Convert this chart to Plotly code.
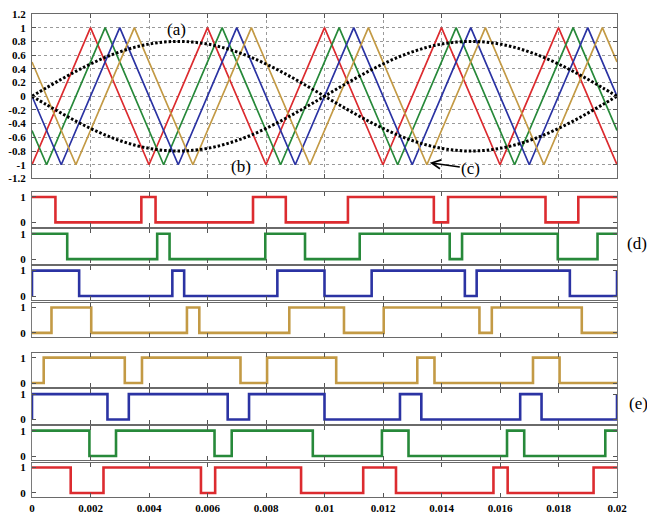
import plotly.graph_objects as go

# ---------------- data ----------------
# triangular carriers: vertex times (s) and values
red_t = [0, 0.002, 0.004, 0.006, 0.008, 0.010, 0.012, 0.014, 0.016, 0.018, 0.020]
red_v = [-1, 1, -1, 1, -1, 1, -1, 1, -1, 1, -1]
green_t = [0, 0.0005, 0.0025, 0.0045, 0.0065, 0.0085, 0.0105, 0.0125, 0.0145, 0.0165, 0.0185, 0.020]
green_v = [-0.5, -1, 1, -1, 1, -1, 1, -1, 1, -1, 1, -0.5]
blue_t = [0, 0.001, 0.003, 0.005, 0.007, 0.009, 0.011, 0.013, 0.015, 0.017, 0.019, 0.020]
blue_v = [0, -1, 1, -1, 1, -1, 1, -1, 1, -1, 1, 0]
gold_t = [0, 0.0015, 0.0035, 0.0055, 0.0075, 0.0095, 0.0115, 0.0135, 0.0155, 0.0175, 0.0195, 0.020]
gold_v = [0.5, -1, 1, -1, 1, -1, 1, -1, 1, -1, 1, 0.5]

# sinusoidal references (read every 0.5 ms)
ref_t = [0.0000, 0.0005, 0.0010, 0.0015, 0.0020, 0.0025, 0.0030, 0.0035, 0.0040, 0.0045,
         0.0050, 0.0055, 0.0060, 0.0065, 0.0070, 0.0075, 0.0080, 0.0085, 0.0090, 0.0095,
         0.0100, 0.0105, 0.0110, 0.0115, 0.0120, 0.0125, 0.0130, 0.0135, 0.0140, 0.0145,
         0.0150, 0.0155, 0.0160, 0.0165, 0.0170, 0.0175, 0.0180, 0.0185, 0.0190, 0.0195, 0.0200]
ref_a = [0.0, 0.125, 0.247, 0.363, 0.470, 0.566, 0.647, 0.713, 0.761, 0.790,
         0.800, 0.790, 0.761, 0.713, 0.647, 0.566, 0.470, 0.363, 0.247, 0.125,
         0.0, -0.125, -0.247, -0.363, -0.470, -0.566, -0.647, -0.713, -0.761, -0.790,
         -0.800, -0.790, -0.761, -0.713, -0.647, -0.566, -0.470, -0.363, -0.247, -0.125, 0.0]
ref_b = [0.0, -0.125, -0.247, -0.363, -0.470, -0.566, -0.647, -0.713, -0.761, -0.790,
         -0.800, -0.790, -0.761, -0.713, -0.647, -0.566, -0.470, -0.363, -0.247, -0.125,
         0.0, 0.125, 0.247, 0.363, 0.470, 0.566, 0.647, 0.713, 0.761, 0.790,
         0.800, 0.790, 0.761, 0.713, 0.647, 0.566, 0.470, 0.363, 0.247, 0.125, 0.0]

# gate pulses (d): initial state and switching instants (s)
d_red_init = 1
d_red_sw = [0.000801, 0.003738, 0.004224, 0.007556, 0.008677, 0.010801, 0.013738, 0.014224, 0.017556, 0.018677]
d_green_init = 1
d_green_sw = [0.001204, 0.004280, 0.004703, 0.007975, 0.009334, 0.011204, 0.014280, 0.014703, 0.017975, 0.019334]
d_blue_init = 0
d_blue_sw = [0.0, 0.001612, 0.004798, 0.005202, 0.008388, 0.010000, 0.011612, 0.014798, 0.015202, 0.018388, 0.020]
d_gold_init = 0
d_gold_sw = [0.000666, 0.002025, 0.005297, 0.005720, 0.008796, 0.010666, 0.012025, 0.015297, 0.015720, 0.018796]

# gate pulses (e)
e_gold_init = 0
e_gold_sw = [0.000400, 0.003172, 0.003760, 0.007128, 0.008037, 0.010400, 0.013172, 0.013760, 0.017128, 0.018037]
e_blue_init = 0
e_blue_sw = [0.0, 0.002580, 0.003310, 0.006690, 0.007420, 0.010000, 0.012580, 0.013310, 0.016690, 0.017420, 0.020]
e_green_init = 1
e_green_sw = [0.001963, 0.002872, 0.006240, 0.006828, 0.009600, 0.011963, 0.012872, 0.016240, 0.016828, 0.019600]
e_red_init = 1
e_red_sw = [0.001323, 0.002444, 0.005776, 0.006262, 0.009199, 0.011323, 0.012444, 0.015776, 0.016262, 0.019199]

x_tickvals = [0, 0.002, 0.004, 0.006, 0.008, 0.010, 0.012, 0.014, 0.016, 0.018, 0.020]
x_ticktext = ["0", "0.002", "0.004", "0.006", "0.008", "0.01", "0.012", "0.014", "0.016", "0.018", "0.02"]
y_tickvals = [1.2, 1.0, 0.8, 0.6, 0.4, 0.2, 0.0, -0.2, -0.4, -0.6, -0.8, -1.0, -1.2]
y_ticktext = ["1.2", "1", "0.8", "0.6", "0.4", "0.2", "0", "-0.2", "-0.4", "-0.6", "-0.8", "-1", "-1.2"]

# ---------------- style ----------------
RED = "#dc2b2f"
GREEN = "#27893a"
BLUE = "#2b33a3"
GOLD = "#c39a45"
FONT = "Liberation Serif"
W, H = 647, 522
ML, MR, MT, MB = 26, 30, 8, 18
PH = H - MT - MB


def dom(top_px, bot_px):
    return [(H - MB - bot_px) / PH, (H - MB - top_px) / PH]


panels = [
    (dom(8, 176.5)),
    dom(190.5, 226), dom(228.2, 263.7), dom(266, 301.5), dom(303.8, 339.3),
    dom(355.2, 390.7), dom(392.6, 428.1), dom(430, 465.5), dom(467.8, 503.3),
]

fig = go.Figure()

# top panel traces
for tt, vv, c in [(red_t, red_v, RED), (green_t, green_v, GREEN), (blue_t, blue_v, BLUE), (gold_t, gold_v, GOLD)]:
    fig.add_trace(go.Scatter(x=tt, y=vv, mode="lines", line=dict(color=c, width=1.7),
                             xaxis="x", yaxis="y", showlegend=False, hoverinfo="skip"))
for rv in (ref_a, ref_b):
    fig.add_trace(go.Scatter(x=ref_t, y=rv, mode="lines", line=dict(color="black", width=3, dash="2.5px,2px", shape="spline"),
                             xaxis="x", yaxis="y", showlegend=False, hoverinfo="skip"))


def pulse(init, sw):
    xs = [0.0]
    ys = [init]
    s = init
    for t in sw:
        s = 1 - s
        xs.append(t)
        ys.append(s)
    xs.append(0.02)
    ys.append(s)
    return xs, ys


pulse_specs = [
    (d_red_init, d_red_sw, RED), (d_green_init, d_green_sw, GREEN),
    (d_blue_init, d_blue_sw, BLUE), (d_gold_init, d_gold_sw, GOLD),
    (e_gold_init, e_gold_sw, GOLD), (e_blue_init, e_blue_sw, BLUE),
    (e_green_init, e_green_sw, GREEN), (e_red_init, e_red_sw, RED),
]
for i, (init, sw, c) in enumerate(pulse_specs, start=2):
    xs, ys = pulse(init, sw)
    fig.add_trace(go.Scatter(x=xs, y=ys, mode="lines", line=dict(color=c, width=2.6, shape="hv"),
                             xaxis=f"x{i}", yaxis=f"y{i}", showlegend=False, hoverinfo="skip"))

tickfont = dict(family=FONT, size=11, color="black", weight="bold")
layout = dict(
    width=W, height=H, margin=dict(l=ML, r=MR, t=MT, b=MB),
    paper_bgcolor="white", plot_bgcolor="white", showlegend=False,
)
for i in range(1, 10):
    xname = "xaxis" if i == 1 else f"xaxis{i}"
    yname = "yaxis" if i == 1 else f"yaxis{i}"
    ya = "y" if i == 1 else f"y{i}"
    xa = "x" if i == 1 else f"x{i}"
    last = (i == 9)
    layout[xname] = dict(
        domain=[0, 1], anchor=ya, range=[0, 0.02], tickvals=x_tickvals,
        ticktext=x_ticktext if last else [""] * len(x_tickvals),
        showticklabels=last, ticks="inside", ticklen=4, tickcolor="#555", tickwidth=1,
        showline=True, linecolor="#6a6a6a", linewidth=1.3, mirror="ticks",
        showgrid=(i == 1), gridcolor="#9a9a9a", griddash="dot", gridwidth=1,
        zeroline=False, tickfont=tickfont, fixedrange=True,
    )
    if i == 1:
        layout[yname] = dict(
            domain=panels[0], anchor=xa, range=[-1.2, 1.2], tickvals=y_tickvals, ticktext=y_ticktext,
            ticks="inside", ticklen=4, tickcolor="#555", showline=True, linecolor="#6a6a6a",
            linewidth=1.3, mirror="ticks", showgrid=True, gridcolor="#9a9a9a", griddash="dot",
            zeroline=False, tickfont=tickfont, ticklabelstandoff=3,
        )
    else:
        layout[yname] = dict(
            domain=panels[i - 1], anchor=xa, range=[-0.173, 1.192], tickvals=[0, 1], ticktext=["0", "1"],
            ticks="inside", ticklen=4, tickcolor="#555", showline=True, linecolor="#7a7a7a",
            linewidth=1.3, mirror="ticks", showgrid=False, zeroline=False, tickfont=tickfont,
            ticklabelstandoff=3,
        )
fig.update_layout(**layout)

afont = dict(family=FONT, size=17, color="black")
fig.add_annotation(x=0.00495, y=0.98, xref="x", yref="y", text="(a)", showarrow=False, font=afont,
                   xanchor="center", yanchor="middle")
fig.add_annotation(x=0.00715, y=-1.03, xref="x", yref="y", text="(b)", showarrow=False, font=afont,
                   xanchor="center", yanchor="middle")
fig.add_annotation(x=0.0136, y=-0.97, xref="x", yref="y", text="(c)", showarrow=True, font=afont,
                   ax=41, ay=6, arrowhead=5, arrowsize=1.1, arrowwidth=1.6, arrowcolor="black")
fig.add_annotation(x=(625 - ML) / (W - ML - MR), y=(H - MB - 243) / PH, xref="paper", yref="paper",
                   text="(d)", showarrow=False, xanchor="left", yanchor="middle", font=afont)
fig.add_annotation(x=(627 - ML) / (W - ML - MR), y=(H - MB - 407) / PH, xref="paper", yref="paper",
                   text="(e)", showarrow=False, xanchor="left", yanchor="middle", font=afont)

fig.write_html("out.html")
